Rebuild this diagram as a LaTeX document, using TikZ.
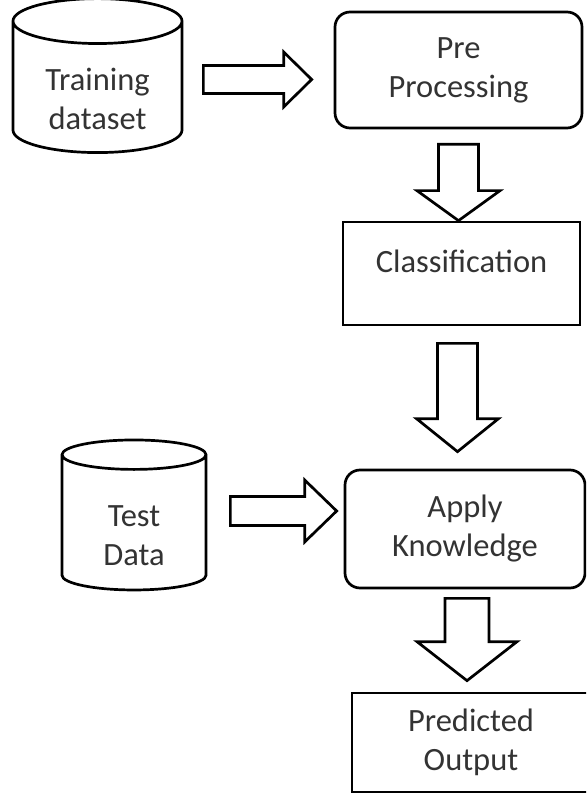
\documentclass[tikz,border=0pt]{standalone}
\usepackage{fontspec}
\setmainfont{Carlito}
\usetikzlibrary{shapes.geometric,calc}

\tikzset{
  fat right/.style n args={3}{draw=black, fill=white, line join=miter,
    to path={let \p1=(\tikztostart), \p2=(\tikztotarget) in
      (\x1,\y1+#1) -- (\x2-#3,\y1+#1) -- (\x2-#3,\y1+#2) -- (\x2,\y1)
      -- (\x2-#3,\y1-#2) -- (\x2-#3,\y1-#1) -- (\x1,\y1-#1) -- cycle}},
  fat down/.style n args={3}{draw=black, fill=white, line join=miter,
    to path={let \p1=(\tikztostart), \p2=(\tikztotarget) in
      (\x1-#1,\y1) -- (\x1-#1,\y2+#3) -- (\x1-#2,\y2+#3) -- (\x1,\y2)
      -- (\x1+#2,\y2+#3) -- (\x1+#1,\y2+#3) -- (\x1+#1,\y1) -- cycle}}
}

\begin{document}
\begin{tikzpicture}[x=1pt, y=-1pt, line width=2.7pt,
    font=\fontsize{32.5}{39}\selectfont]

  \tikzstyle{store}=[draw=black, cylinder, shape border rotate=90,
    text=black!80, align=center, inner sep=0pt]
  \tikzstyle{stage}=[draw=black, rectangle, text=black!80, align=center]

  \clip (0,0) rectangle (586,794);

  \node [store, aspect=0.43, minimum width=169pt, minimum height=151pt]
    (train) at (97.5,87.5) {\rule{0pt}{46pt}Training\\dataset};

  \node [stage, rounded corners=15pt, minimum width=247pt,
    minimum height=116pt] (pre) at (458.5,70) {Pre\\Processing};

  \node [stage, minimum width=237pt, minimum height=103pt,
    text depth=25pt] (class) at (461.5,273.5) {Classification};

  \node [store, aspect=0.48, minimum width=144pt, minimum height=150pt]
    (test) at (134,523) {\rule{0pt}{46pt}Test\\Data};

  \node [stage, rounded corners=15pt, minimum width=240pt,
    minimum height=118pt] (apply) at (465,529) {Apply\\Knowledge};

  \node [stage, minimum width=238pt, minimum height=99pt] (out)
    at (471,742.5) {Predicted\\Output};

  \path
  (train.east) +(20,-8) coordinate (a1) --
  (pre.west) +(-22,10) coordinate (a2);
  \path
  (pre.south) +(0,15) coordinate (b1) --
  (class.south) +(-4,17) coordinate (c1) --
  (apply.north) +(0,-17) coordinate (c2);
  \path
  (test.east) +(23,-12) coordinate (d1) --
  (apply.west) +(-7,-18) coordinate (d2);
  \path
  (apply.south) +(2,9) coordinate (e1) --
  (out.north) +(0,-11) coordinate (e2);

  \draw [fat right={14pt}{27.5pt}{28pt}] (a1) to (a2);
  \draw [fat down={20pt}{41.5pt}{30pt}] (b1) to (class.north);
  \draw [fat down={20pt}{41pt}{33pt}] (c1) to (c2);
  \draw [fat right={14.5pt}{31pt}{32pt}] (d1) to (d2);
  \draw [fat down={22pt}{50pt}{39pt}] (e1) to (e2);

\end{tikzpicture}
\end{document}
